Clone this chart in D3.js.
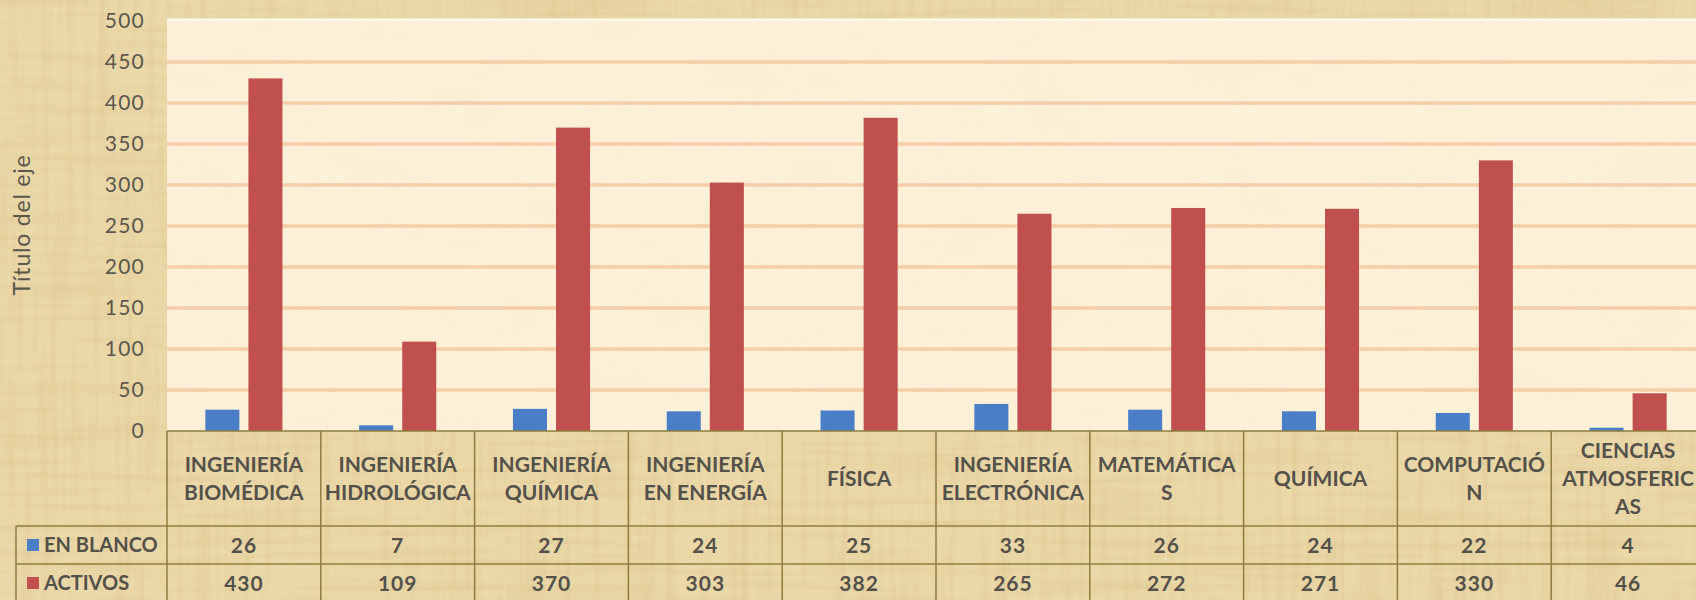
<!DOCTYPE html>
<html>
<head>
<meta charset="utf-8">
<script src="https://cdn.jsdelivr.net/npm/d3@7"></script>
<style>
  html, body { margin: 0; padding: 0; background: #e9d5a3; }
  svg { display: block; }
</style>
</head>
<body>
<div class="chart"></div>
<script>
// data
var categories = [
  ["INGENIERÍA", "BIOMÉDICA"],
  ["INGENIERÍA", "HIDROLÓGICA"],
  ["INGENIERÍA", "QUÍMICA"],
  ["INGENIERÍA", "EN ENERGÍA"],
  ["FÍSICA"],
  ["INGENIERÍA", "ELECTRÓNICA"],
  ["MATEMÁTICA", "S"],
  ["QUÍMICA"],
  ["COMPUTACIÓ", "N"],
  ["CIENCIAS", "ATMOSFERIC", "AS"]
]
var seriesNames = ["EN BLANCO", "ACTIVOS"]
var enBlanco = [26, 7, 27, 24, 25, 33, 26, 24, 22, 4]
var activos = [430, 109, 370, 303, 382, 265, 272, 271, 330, 46]
var yTicks = [0, 50, 100, 150, 200, 250, 300, 350, 400, 450, 500]
var axisTitle = "Título del eje"

var width = 1696, height = 600
var colors = ["#4a7fc8", "#c0504d"]
var lineColor = "#8e7c3f"
var textColor = "#54514a"
var font = "Lato, 'Open Sans', sans-serif"

var left = 167, colW = 153.8
var plotTop = 19, plotBottom = 431
var rowTops = [431, 526, 564, 602]

var svg = d3.select(".chart")
    .append("svg")
    .attr("width", width)
    .attr("height", height)

// papyrus texture
var defs = svg.append("defs")
function grain(id, freq, seed, alpha){
  var f = defs.append("filter").attr("id", id)
      .attr("x", 0).attr("y", 0).attr("width", "100%").attr("height", "100%")
  f.append("feTurbulence")
      .attr("type", "fractalNoise")
      .attr("baseFrequency", freq)
      .attr("numOctaves", 3)
      .attr("seed", seed)
  f.append("feColorMatrix")
      .attr("type", "matrix")
      .attr("values", "0 0 0 0 0.6  0 0 0 0 0.47  0 0 0 0 0.2  " + alpha + " 0 0 0 " + (-alpha * 0.45))
}
grain("grainH", "0.006 0.12", 4, 0.6)
grain("grainV", "0.12 0.006", 9, 0.55)
grain("grainSoft", "0.01 0.02", 2, 0.25)

svg.append("rect").attr("width", width).attr("height", height).attr("fill", "#ebd8a8")
svg.append("rect").attr("width", width).attr("height", height).attr("filter", "url(#grainH)")
svg.append("rect").attr("width", width).attr("height", height).attr("filter", "url(#grainV)")

var x = d3.scaleBand()
    .domain(d3.range(categories.length))
    .range([left, left + colW * categories.length])
    .padding(0)

var xs = d3.scaleBand()
    .domain(seriesNames)
    .range([0, x.bandwidth()])
    .paddingInner(0.21)
    .paddingOuter(0.89)

var y = d3.scaleLinear()
    .domain([0, 500])
    .range([plotBottom, 21])

// plot area
var plot = svg.append("g")
plot.append("rect")
    .attr("x", left).attr("y", plotTop)
    .attr("width", width - left).attr("height", plotBottom - plotTop)
    .attr("fill", "#fcf1d8")
plot.append("rect")
    .attr("x", left).attr("y", plotTop)
    .attr("width", width - left).attr("height", plotBottom - plotTop)
    .attr("filter", "url(#grainSoft)")
    .attr("opacity", 0.3)
plot.append("line")
    .attr("x1", left).attr("x2", width)
    .attr("y1", plotTop + 0.5).attr("y2", plotTop + 0.5)
    .attr("stroke", "#fffaf0").attr("stroke-width", 2)

plot.append("g")
    .selectAll("line")
    .data(yTicks.filter(function(d){ return d > 0 && d < 500 }))
    .enter()
    .append("line")
    .attr("x1", left).attr("x2", width)
    .attr("y1", function(d){ return y(d) }).attr("y2", function(d){ return y(d) })
    .attr("stroke", "#f6cda9")
    .attr("stroke-width", 3.5)

// y axis
var yAxis = svg.append("g")
    .attr("transform", "translate(" + left + ",0)")
    .call(d3.axisLeft(y).tickValues(yTicks).tickSize(0).tickPadding(22))
yAxis.select(".domain").remove()
yAxis.selectAll("text")
    .attr("font-family", font)
    .attr("font-size", 21)
    .attr("letter-spacing", 1.2)
    .attr("fill", "#5a584c")

svg.append("text")
    .attr("transform", "translate(22," + ((plotTop + plotBottom) / 2) + ") rotate(-90)")
    .attr("text-anchor", "middle")
    .attr("dy", "0.35em")
    .attr("font-family", font)
    .attr("font-size", 23)
    .attr("letter-spacing", 0.8)
    .attr("fill", "#5a584c")
    .text(axisTitle)

// bars
var series = [enBlanco, activos]
var groups = svg.append("g")
    .selectAll("g")
    .data(series)
    .enter()
    .append("g")
    .attr("fill", function(d, i){ return colors[i] })

groups.selectAll("rect")
    .data(function(d, i){ return d.map(function(v, j){ return {s: seriesNames[i], c: j, v: v} }) })
    .enter()
    .append("rect")
    .attr("x", function(d){ return x(d.c) + xs(d.s) })
    .attr("width", xs.bandwidth())
    .attr("y", function(d){ return y(d.v) })
    .attr("height", function(d){ return y(0) - y(d.v) })

// data table
var table = svg.append("g")
    .attr("stroke", lineColor)
    .attr("stroke-width", 1.5)

table.append("line")
    .attr("x1", left).attr("x2", width)
    .attr("y1", rowTops[0]).attr("y2", rowTops[0])
table.selectAll(".hrow")
    .data(rowTops.slice(1))
    .enter()
    .append("line")
    .attr("x1", 16).attr("x2", width)
    .attr("y1", function(d){ return d }).attr("y2", function(d){ return d })
table.selectAll(".vcol")
    .data(d3.range(categories.length + 1))
    .enter()
    .append("line")
    .attr("x1", function(d){ return left + d * colW }).attr("x2", function(d){ return left + d * colW })
    .attr("y1", rowTops[0]).attr("y2", height)
table.append("line")
    .attr("x1", 16).attr("x2", 16)
    .attr("y1", rowTops[1]).attr("y2", height)

// header labels
var headCenter = (rowTops[0] + rowTops[1]) / 2
var lineH = 28
var head = svg.append("g")
    .attr("font-family", font)
    .attr("font-weight", "bold")
    .attr("font-size", 21)
    .attr("fill", textColor)
    .attr("text-anchor", "middle")

head.selectAll("text")
    .data(categories)
    .enter()
    .append("text")
    .attr("x", function(d, i){ return x(i) + x.bandwidth() / 2 })
    .each(function(d){
      var t = d3.select(this)
      d.forEach(function(line, k){
        t.append("tspan")
          .attr("x", t.attr("x"))
          .attr("y", headCenter + (k - (d.length - 1) / 2) * lineH)
          .attr("dy", "0.36em")
          .text(line)
      })
    })

// value rows
series.forEach(function(vals, i){
  var cy = (rowTops[i + 1] + rowTops[i + 2]) / 2
  head.append("g")
    .selectAll("text")
    .data(vals)
    .enter()
    .append("text")
    .attr("x", function(d, j){ return x(j) + x.bandwidth() / 2 })
    .attr("y", cy)
    .attr("dy", "0.36em")
    .attr("letter-spacing", 1)
    .text(function(d){ return d })

  svg.append("rect")
    .attr("x", 27).attr("y", cy - 6)
    .attr("width", 12).attr("height", 12)
    .attr("fill", colors[i])
  head.append("text")
    .attr("text-anchor", "start")
    .attr("x", 44)
    .attr("y", cy)
    .attr("dy", "0.36em")
    .attr("font-size", 20)
    .text(seriesNames[i])
})
</script>
</body>
</html>
